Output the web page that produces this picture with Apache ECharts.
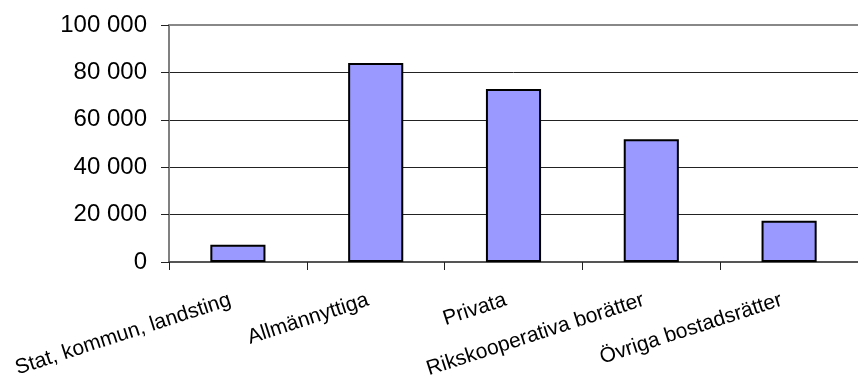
<!DOCTYPE html>
<html>
<head>
<meta charset="utf-8">
<script src="https://cdn.jsdelivr.net/npm/echarts@6/dist/echarts.min.js"></script>
<style>
  html, body { margin: 0; padding: 0; background: #fff; }
  #chart { width: 858px; height: 383px; }
</style>
</head>
<body>
<div id="chart"></div>
<script>
// --- data ---
const categories = [
  'Stat, kommun, landsting',
  'Allmännyttiga',
  'Privata',
  'Rikskooperativa borätter',
  'Övriga bostadsrätter',
]
const values = [7300, 84000, 73000, 51800, 17400]
const yMin = 0
const yMax = 100000
const yStep = 20000

// "100 000" style thousand separator
const fmtNumber = (v) => String(v).replace(/\B(?=(\d{3})+(?!\d))/g, ' ')

const chart = echarts.init(document.getElementById('chart'))

const options = {
  animation: false,
  textStyle: { fontFamily: 'Liberation Sans, Arial, sans-serif' },
  grid: { left: 169, top: 25, right: -8, bottom: 121 },
  xAxis: [
    {
      type: 'category',
      data: categories,
      boundaryGap: true,
      axisLine: { show: true, lineStyle: { color: '#555', width: 2 } },
      axisTick: { show: true, length: 8, lineStyle: { color: '#222', width: 1 } },
      axisLabel: {
        interval: 0,
        rotate: 18,
        margin: 35,
        padding: [0, 8, 0, 0],
        color: '#000',
        fontSize: 21,
        fontFamily: 'Liberation Sans, Arial, sans-serif',
      },
    },
    {
      // gray frame line at the top of the plot area
      type: 'category',
      position: 'top',
      data: categories,
      axisLine: { show: true, lineStyle: { color: '#888', width: 2 } },
      axisTick: { show: false },
      axisLabel: { show: false },
    },
  ],
  yAxis: {
    type: 'value',
    min: yMin,
    max: yMax,
    interval: yStep,
    axisLine: { show: true, lineStyle: { color: '#808080', width: 2 } },
    axisTick: { show: true, inside: false, length: 8, lineStyle: { color: '#222', width: 1 } },
    axisLabel: {
      margin: 22,
      color: '#000',
      fontSize: 24,
      fontFamily: 'Liberation Sans, Arial, sans-serif',
      formatter: fmtNumber,
    },
    splitLine: { show: true, showMaxLine: false, lineStyle: { color: '#222', width: 1 } },
  },
  series: [
    {
      type: 'bar',
      data: values,
      barWidth: '40%',
      itemStyle: {
        color: '#9999ff',
        borderColor: '#000',
        borderWidth: 2,
      },
    },
  ],
}

chart.setOption(options)
</script>
</body>
</html>
